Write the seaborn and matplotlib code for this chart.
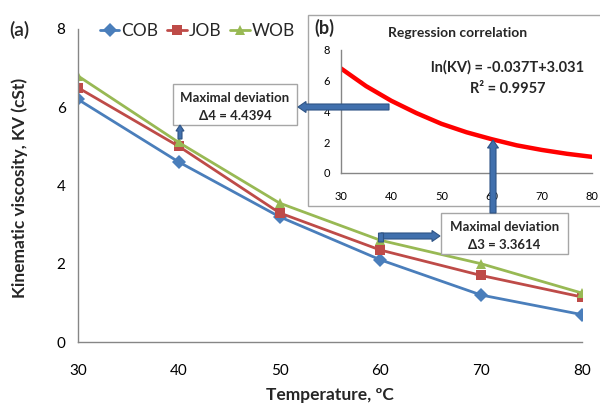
import numpy as np
import pandas as pd
import matplotlib
matplotlib.use("Agg")
import matplotlib.pyplot as plt
from matplotlib.patches import Rectangle, FancyArrow
import seaborn as sns

# data
temps = [30, 40, 50, 60, 70, 80]
cob = [6.2, 4.6, 3.2, 2.1, 1.2, 0.7]
job = [6.5, 5.0, 3.3, 2.35, 1.7, 1.15]
wob = [6.8, 5.1, 3.55, 2.6, 2.0, 1.25]

# regression curve (inset), read at 5 degree steps
reg_t = [30, 35, 40, 45, 50, 55, 60, 65, 70, 75, 80]
reg_kv = [6.8, 5.65, 4.7, 3.9, 3.2, 2.65, 2.2, 1.8, 1.5, 1.25, 1.05]

oils = ["COB", "JOB", "WOB"]
colors = {"COB": "#4A7EBB", "JOB": "#BE4B48", "WOB": "#98B954"}
marks = {"COB": "D", "JOB": "s", "WOB": "^"}

df = pd.DataFrame({
    "T": temps * 3,
    "KV": cob + job + wob,
    "oil": [o for o in oils for _ in temps],
})
reg = pd.DataFrame({"T": reg_t, "KV": reg_kv})

sns.set_theme(style="white")
plt.rcParams["font.family"] = ["Lato", "DejaVu Sans"]

W, H = 600, 403
fig = plt.figure(figsize=(6, 4.03), dpi=100)


def px(x, y):
    return x / W, 1 - y / H


grey = "#868686"

# main chart
ax = fig.add_axes([78 / W, 1 - 342 / H, 504 / W, 313 / H])
sns.lineplot(data=df, x="T", y="KV", hue="oil", style="oil", markers=marks,
             dashes=False, palette=colors, linewidth=2, markersize=7,
             markeredgewidth=0, ax=ax)
ax.set_xlim(30, 80)
ax.set_ylim(0, 8)
ax.set_xticks(range(30, 81, 10))
ax.set_yticks(range(0, 9, 2))
ax.set_xlabel("")
ax.set_ylabel("")
sns.despine(ax=ax)
for s in ["left", "bottom"]:
    ax.spines[s].set_color(grey)
    ax.spines[s].set_linewidth(1)
ax.tick_params(axis="both", direction="out", length=5, width=1, colors=grey,
               labelcolor="black", labelsize=11)
ax.tick_params(axis="x", pad=11)
ax.tick_params(axis="y", pad=4)
sns.move_legend(ax, "upper left", bbox_to_anchor=(0.03, 1.04), ncol=3,
                frameon=False, title=None, fontsize=12.5, handlelength=1.1,
                handletextpad=0.1, columnspacing=0.55, borderaxespad=0)

fig.text(*px(20, 188), "Kinematic viscosity, KV (cSt)", rotation=90,
         ha="center", va="center", fontsize=12.5, fontweight="bold")
fig.text(*px(330, 395), "Temperature, \u00baC", ha="center", va="center",
         fontsize=12.5, fontweight="bold")
fig.text(*px(19, 30), "(a)", ha="center", va="center", fontsize=14,
         fontweight="semibold")

# inset panel frame
fx, fy = px(308, 206)
fig.add_artist(Rectangle((fx, fy), 0.6, (206 - 15) / H, transform=fig.transFigure,
                         facecolor="white", edgecolor="#A6A6A6", linewidth=1,
                         zorder=2))

axi = fig.add_axes([341 / W, 1 - 173 / H, 251 / W, 123 / H], zorder=3)
axi.patch.set_alpha(0)
sns.lineplot(data=reg, x="T", y="KV", color="#FF0000", linewidth=3.2, ax=axi)
axi.set_xlim(30, 80)
axi.set_ylim(0, 8)
axi.set_xticks(range(30, 81, 10))
axi.set_yticks(range(0, 9, 2))
axi.set_xlabel("")
axi.set_ylabel("")
sns.despine(ax=axi)
for s in ["left", "bottom"]:
    axi.spines[s].set_color(grey)
    axi.spines[s].set_linewidth(1)
axi.tick_params(axis="both", direction="out", length=4, width=1, colors=grey,
                labelcolor="black", labelsize=8)
axi.tick_params(axis="x", pad=9)
axi.tick_params(axis="y", pad=4)

fig.text(*px(324, 28), "(b)", ha="center", va="center", fontsize=13,
         fontweight="bold", zorder=4)
fig.text(*px(458, 33), "Regression correlation", ha="center", va="center",
         fontsize=10, fontweight="bold", zorder=4)
fig.text(*px(508, 67), "ln(KV) = -0.037T+3.031", ha="center", va="center",
         fontsize=10.5, fontweight="bold", zorder=4)
fig.text(*px(508, 89), "R\u00b2 = 0.9957", ha="center", va="center",
         fontsize=10.5, fontweight="bold", zorder=4)

# annotation boxes
def note(x0, y0, x1, y1, line2):
    bx, by = px(x0, y1)
    fig.add_artist(Rectangle((bx, by), (x1 - x0) / W, (y1 - y0) / H,
                             transform=fig.transFigure, facecolor="white",
                             edgecolor="#A6A6A6", linewidth=1, zorder=5))
    cx = (x0 + x1) / 2
    fig.text(*px(cx, y0 + 0.33 * (y1 - y0)), "Maximal deviation", ha="center",
             va="center", fontsize=9.5, fontweight="bold", zorder=6)
    fig.text(*px(cx, y0 + 0.78 * (y1 - y0)), line2, ha="center",
             va="center", fontsize=9.5, fontweight="bold", zorder=6)


note(173, 84, 297, 125, "\u03944 = 4.4394")
note(441, 213, 568, 254, "\u03943 = 3.3614")

# block arrows, in pixel units converted to inches
arrow_fc = "#4170AD"
arrow_ec = "#2F5485"


def block_arrow(x0, y0, x1, y1, w, hw, hl):
    a = FancyArrow(x0 / 100, (H - y0) / 100, (x1 - x0) / 100, -(y1 - y0) / 100,
                   width=w / 100, head_width=hw / 100, head_length=hl / 100,
                   length_includes_head=True, transform=fig.dpi_scale_trans,
                   facecolor=arrow_fc, edgecolor=arrow_ec, linewidth=0.8,
                   zorder=7)
    fig.add_artist(a)


block_arrow(389, 107, 298, 107, 6, 11, 8)
block_arrow(180, 139, 180, 125, 4, 8, 6)
block_arrow(493, 213, 493, 140, 6, 11, 8)
block_arrow(381, 236, 440, 236, 6, 11, 8)
block_arrow(381, 242, 381, 233, 5, 5, 0.1)

fig.savefig("out.png", dpi=100)
